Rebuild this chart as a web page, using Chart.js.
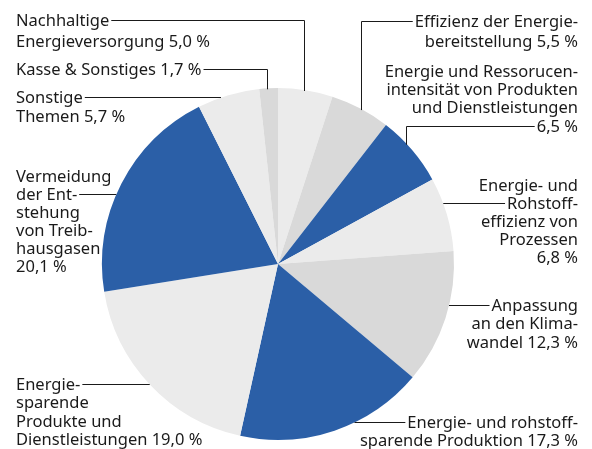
<!DOCTYPE html>
<html>
<head>
<meta charset="utf-8">
<script src="https://cdn.jsdelivr.net/npm/chart.js@4/dist/chart.umd.min.js"></script>
<style>
html,body{margin:0;padding:0;background:#fff;}
#wrap{position:relative;width:592px;height:449px;}
</style>
</head>
<body>
<div id="wrap"><canvas id="c" width="592" height="449"></canvas></div>
<script>
// ---- data ----
const categories = [
  "Nachhaltige Energieversorgung",
  "Effizienz der Energiebereitstellung",
  "Energie und Ressorucenintensität von Produkten und Dienstleistungen",
  "Energie- und Rohstoffeffizienz von Prozessen",
  "Anpassung an den Klimawandel",
  "Energie- und rohstoffsparende Produktion",
  "Energiesparende Produkte und Dienstleistungen",
  "Vermeidung der Entstehung von Treibhausgasen",
  "Sonstige Themen",
  "Kasse & Sonstiges"
];
const values = [5.0, 5.5, 6.5, 6.8, 12.3, 17.3, 19.0, 20.1, 5.7, 1.7];
const labelLines = [
  ["Nachhaltige", "Energieversorgung {v}"],
  ["Effizienz der Energie-", "bereitstellung {v}"],
  ["Energie und Ressorucen-", "intensität von Produkten", "und Dienstleistungen", "{v}"],
  ["Energie- und", "Rohstoff-", "effizienz von", "Prozessen", "{v}"],
  ["Anpassung", "an den Klima-", "wandel {v}"],
  ["Energie- und rohstoff-", "sparende Produktion {v}"],
  ["Energie-", "sparende", "Produkte und", "Dienstleistungen {v}"],
  ["Vermeidung", "der Ent-", "stehung", "von Treib-", "hausgasen", "{v}"],
  ["Sonstige", "Themen {v}"],
  ["Kasse & Sonstiges {v}"]
];
const BLUE = "#2b5fa7", LIGHT = "#ebebeb", GREY = "#d9d9d9";
const sliceColors = [LIGHT, GREY, BLUE, LIGHT, GREY, BLUE, LIGHT, BLUE, LIGHT, GREY];

// ---- label layout (positions only) ----
const layout = [
  {x:16,  align:"left",  y:21,  lh:21,   li:0, kind:"e", ex:304},
  {x:578, align:"right", y:22,  lh:20,   li:0, kind:"e", ex:361},
  {x:578, align:"right", y:72,  lh:18.3, li:3, kind:"e", ex:406},
  {x:578, align:"right", y:186, lh:18,   li:1, kind:"h"},
  {x:578, align:"right", y:306, lh:18.5, li:0, kind:"h"},
  {x:578, align:"right", y:423, lh:18.5, li:0, kind:"h"},
  {x:16,  align:"left",  y:385, lh:18.4, li:0, kind:"h"},
  {x:16,  align:"left",  y:177, lh:18.1, li:1, kind:"h"},
  {x:16,  align:"left",  y:98,  lh:19,   li:0, kind:"h"},
  {x:16,  align:"left",  y:70,  lh:19,   li:0, kind:"e", ex:267}
];

const fmt = v => v.toFixed(1).replace(".", ",") + " %";

const labelPlugin = {
  id: "outerLabels",
  afterDatasetsDraw(chart) {
    const ctx = chart.ctx;
    const meta = chart.getDatasetMeta(0);
    const arc0 = meta.data[0];
    const cx = arc0.x, cy = arc0.y, r = arc0.outerRadius;
    ctx.save();
    ctx.font = '16.5px "Noto Sans", sans-serif';
    ctx.fillStyle = "#1a1a1a";
    ctx.strokeStyle = "#1a1a1a";
    ctx.lineWidth = 1;
    ctx.textBaseline = "middle";
    labelLines.forEach((lines, i) => {
      const L = layout[i];
      ctx.textAlign = L.align;
      const texts = lines.map(s => s.replace("{v}", fmt(values[i])));
      texts.forEach((t, k) => ctx.fillText(t, L.x, L.y + k * L.lh));
      const ly = Math.round(L.y + L.li * L.lh - 1) + 0.5;
      const w = ctx.measureText(texts[L.li]).width;
      const side = cx > L.x ? 1 : -1;
      const sx = L.align === "left" ? L.x + w + 2 : L.x - w - 2;
      ctx.beginPath();
      ctx.moveTo(sx, ly);
      if (L.kind === "h") {
        const dy = ly - cy;
        const ex = cx - side * Math.sqrt(Math.max(r * r - dy * dy, 0));
        ctx.lineTo(ex, ly);
      } else {
        const ex = L.ex + 0.5;
        const dx = ex - cx;
        const ey = cy - Math.sqrt(Math.max(r * r - dx * dx, 0));
        ctx.lineTo(ex, ly);
        ctx.lineTo(ex, ey + 1);
      }
      ctx.stroke();
    });
    ctx.restore();
  }
};

new Chart(document.getElementById("c"), {
  type: "pie",
  data: {
    labels: categories,
    datasets: [{
      data: values,
      backgroundColor: sliceColors,
      borderWidth: 0
    }]
  },
  options: {
    responsive: false,
    animation: false,
    rotation: 0,
    layout: { padding: { left: 102, top: 88, right: 138, bottom: 9 } },
    plugins: { legend: { display: false }, tooltip: { enabled: false } }
  },
  plugins: [labelPlugin]
});
</script>
</body>
</html>
